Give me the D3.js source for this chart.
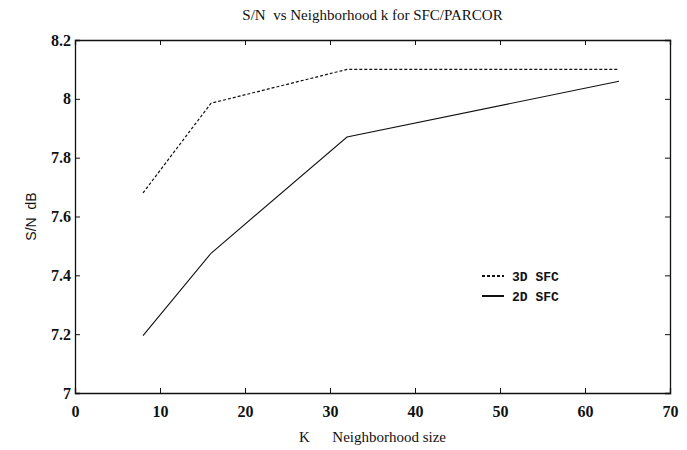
<!DOCTYPE html>
<html>
<head>
<meta charset="utf-8">
<script src="https://cdn.jsdelivr.net/npm/d3@7"></script>
<style>
  body { margin: 0; background: #fff; }
  text { fill: #111; }
</style>
</head>
<body>
<div id="chart"></div>
<script>
// neighborhood sizes and S/N values (dB)
var kValues = [8, 16, 32, 64];
var sfc3d = [7.68, 7.985, 8.10, 8.10];
var sfc2d = [7.195, 7.475, 7.87, 8.06];
var xTicks = [0, 10, 20, 30, 40, 50, 60, 70];
var yTicks = [7, 7.2, 7.4, 7.6, 7.8, 8, 8.2];

var width = 687, height = 450;
var margin = {top: 40, right: 17, bottom: 57, left: 75};
var w = width - margin.left - margin.right;
var h = height - margin.top - margin.bottom;

var serif = "'Liberation Serif', 'Times New Roman', serif";

var svg = d3.select("#chart").append("svg")
    .attr("width", width)
    .attr("height", height);

var g = svg.append("g")
    .attr("transform", "translate(" + margin.left + "," + margin.top + ")");

var x = d3.scaleLinear().domain([0, 70]).range([0, w]);
var y = d3.scaleLinear().domain([7, 8.2]).range([h, 0]);

var fmt = function(d) { return String(+d.toFixed(1)); };

// bottom axis with inward ticks
var xb = g.append("g")
    .attr("transform", "translate(0," + h + ")")
    .call(d3.axisBottom(x).tickValues(xTicks).tickSize(-5).tickPadding(10).tickFormat(fmt));
// top axis, ticks only
var xt = g.append("g")
    .call(d3.axisTop(x).tickValues(xTicks).tickSize(-5).tickFormat(""));
// left axis
var yl = g.append("g")
    .call(d3.axisLeft(y).tickValues(yTicks).tickSize(-5).tickPadding(4).tickFormat(fmt));
// right axis, ticks only
var yr = g.append("g")
    .attr("transform", "translate(" + w + ",0)")
    .call(d3.axisRight(y).tickValues(yTicks).tickSize(-5).tickFormat(""));

[xb, xt, yl, yr].forEach(function(a) {
    a.attr("font-family", serif).attr("font-size", 16).attr("font-weight", "bold");
    a.select(".domain").attr("stroke", "#111").attr("stroke-width", 1.3);
    a.selectAll(".tick line").attr("stroke", "#111");
    a.selectAll("text").attr("fill", "#111");
});
xb.selectAll(".tick text").attr("dy", "0.85em");

var line = d3.line()
    .x(function(d) { return x(d.k); })
    .y(function(d) { return y(d.v); });

var data3d = kValues.map(function(k, i) { return {k: k, v: sfc3d[i]}; });
var data2d = kValues.map(function(k, i) { return {k: k, v: sfc2d[i]}; });

g.append("path")
    .datum(data3d)
    .attr("fill", "none")
    .attr("stroke", "#111")
    .attr("stroke-width", 1.2)
    .attr("stroke-dasharray", "3,2")
    .attr("d", line);

g.append("path")
    .datum(data2d)
    .attr("fill", "none")
    .attr("stroke", "#111")
    .attr("stroke-width", 1.1)
    .attr("d", line);

// legend
var legend = [
    {label: "3D SFC", dash: "3,2"},
    {label: "2D SFC", dash: null}
];
var lg = g.selectAll(".legend")
    .data(legend)
    .enter().append("g")
    .attr("class", "legend")
    .attr("transform", function(d, i) { return "translate(407," + (236 + i * 20) + ")"; });

lg.append("line")
    .attr("x1", 0).attr("x2", 22)
    .attr("y1", 0).attr("y2", 0)
    .attr("stroke", "#111")
    .attr("stroke-width", 2)
    .attr("stroke-dasharray", function(d) { return d.dash; });

lg.append("text")
    .attr("x", 30)
    .attr("y", 0)
    .attr("dy", "0.35em")
    .attr("xml:space", "preserve")
    .style("font-family", "'Liberation Mono', 'Courier New', monospace")
    .style("font-size", "13px")
    .style("font-weight", "bold")
    .text(function(d) { return d.label; });

// title
svg.append("text")
    .attr("x", margin.left + w / 2)
    .attr("y", 20)
    .attr("text-anchor", "middle")
    .attr("xml:space", "preserve")
    .style("white-space", "pre")
    .style("font-family", serif)
    .style("font-size", "15px")
    .text("S/N  vs Neighborhood k for SFC/PARCOR");

// x label
svg.append("text")
    .attr("x", margin.left + w / 2)
    .attr("y", 442)
    .attr("text-anchor", "middle")
    .attr("xml:space", "preserve")
    .style("white-space", "pre")
    .style("font-family", serif)
    .style("font-size", "15px")
    .text("K      Neighborhood size");

// y label
svg.append("text")
    .attr("transform", "translate(36," + (margin.top + h / 2) + ") rotate(-90)")
    .attr("text-anchor", "middle")
    .attr("xml:space", "preserve")
    .style("white-space", "pre")
    .style("font-family", "'Liberation Sans', Arial, sans-serif")
    .style("font-size", "14px")
    .text("S/N  dB");
</script>
</body>
</html>
